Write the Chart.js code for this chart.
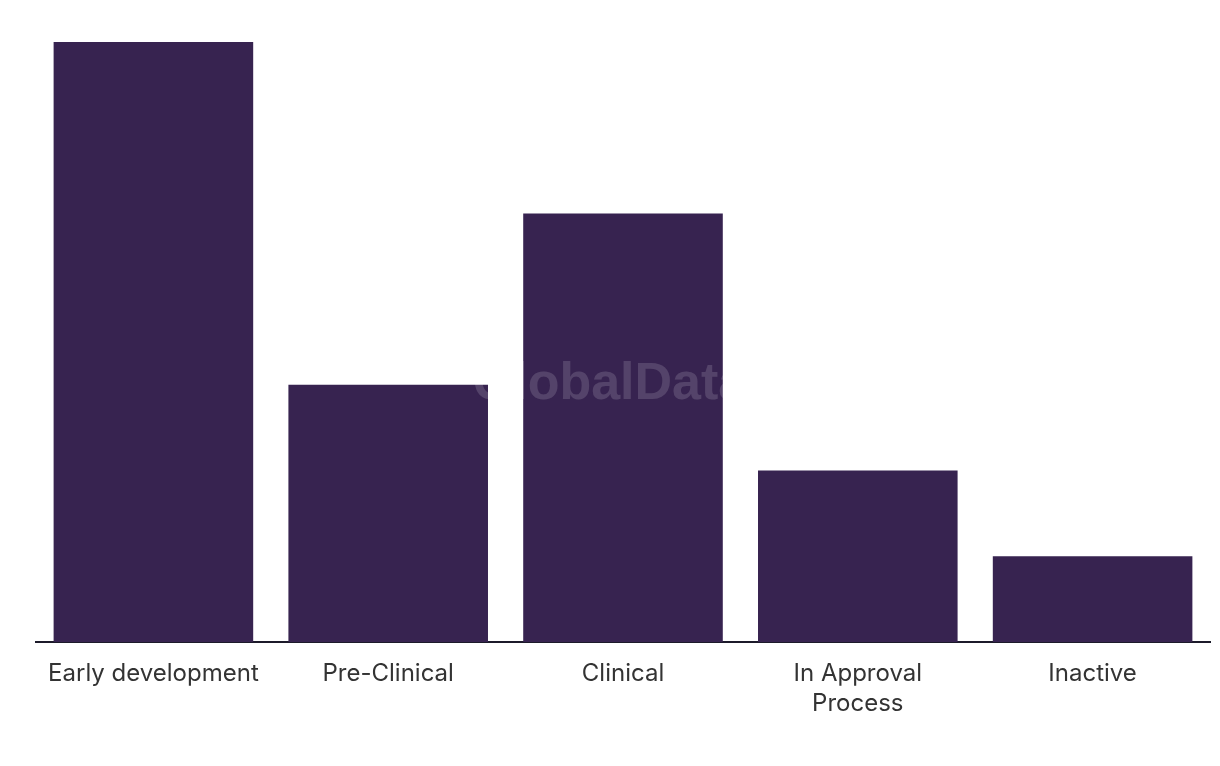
<!DOCTYPE html>
<html>
<head>
<meta charset="utf-8">
<script src="https://cdn.jsdelivr.net/npm/chart.js@4"></script>
<style>
    html, body { margin: 0; padding: 0; background: #ffffff; }
    #wrap { width: 1220px; height: 766px; position: relative; }
</style>
</head>
<body>
<div id="wrap"><canvas id="pipelineChart"></canvas></div>
<script>
/* =========================================
   DATA
========================================= */

const categories = [
    "Early development",
    "Pre-Clinical",
    "Clinical",
    ["In Approval", "Process"],
    "Inactive"
];

const productCounts = [7, 3, 5, 2, 1];

const yMax = 7;

/* =========================================
   WATERMARK PLUGIN
========================================= */

const watermark = {
    id: "watermark",
    afterDatasetsDraw(chart) {
        const ctx = chart.ctx;
        ctx.save();
        ctx.font = "bold 52px 'Liberation Sans', Arial, sans-serif";
        ctx.fillStyle = "rgba(255,255,255,0.15)";
        ctx.textAlign = "center";
        ctx.textBaseline = "middle";
        ctx.fillText("GlobalData", 610, 385);
        ctx.restore();
    }
};

/* =========================================
   CHART
========================================= */

const ctx = document.getElementById("pipelineChart").getContext("2d");

new Chart(ctx, {

    type: "bar",

    data: {
        labels: categories,
        datasets: [
            {
                label: "Products",
                data: productCounts,
                backgroundColor: "#372350",
                barPercentage: 0.85,
                categoryPercentage: 1
            }
        ]
    },

    options: {

        responsive: true,
        maintainAspectRatio: false,
        animation: false,

        layout: {
            padding: {
                top: 42,
                left: 36,
                right: 10,
                bottom: 38
            }
        },

        plugins: {
            legend: { display: false },
            tooltip: { enabled: false }
        },

        scales: {

            x: {
                grid: { display: false },
                border: {
                    display: true,
                    color: "#1c1a2a",
                    width: 2
                },
                ticks: {
                    color: "#333333",
                    padding: 9,
                    maxRotation: 0,
                    autoSkip: false,
                    font: {
                        family: "Inter, 'Noto Sans', sans-serif",
                        size: 24,
                        lineHeight: 1.25
                    }
                }
            },

            y: {
                display: false,
                min: 0,
                max: yMax
            }

        }

    },

    plugins: [watermark]

});
</script>
</body>
</html>
